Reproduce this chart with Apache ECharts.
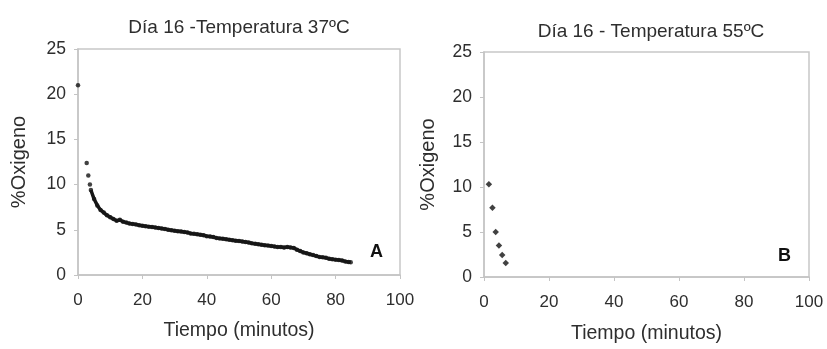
<!DOCTYPE html>
<html><head><meta charset="utf-8">
<script src="https://cdn.jsdelivr.net/npm/echarts@6/dist/echarts.min.js"></script>
<style>html,body{margin:0;padding:0;background:#fff}#c{width:827px;height:349px}</style>
</head><body><div id="c"></div>
<script>
// Panel A: Día 16 - 37ºC
const timeA = [0, 2.7, 3.2, 3.7, 4, 5, 6, 7, 8, 9, 10, 11, 12, 13, 14, 15, 16, 17, 18, 19, 20,
  21, 22, 23, 24, 25, 26, 27, 28, 29, 30, 31, 32, 33, 34, 35, 36, 37, 38, 39, 40,
  41, 42, 43, 44, 45, 46, 47, 48, 49, 50, 51, 52, 53, 54, 55, 56, 57, 58, 59, 60,
  61, 62, 63, 64, 65, 66, 67, 68, 69, 70, 71, 72, 73, 74, 75, 76, 77, 78, 79, 80,
  81, 82, 83, 84, 84.7];
const oxyA = [21.0, 12.4, 11.0, 10.0, 9.4, 8.4, 7.7, 7.2, 6.9, 6.6, 6.4, 6.2, 6.0, 6.1, 5.9, 5.8, 5.7, 5.65, 5.6, 5.5, 5.45,
  5.4, 5.35, 5.3, 5.25, 5.2, 5.15, 5.1, 5.0, 4.95, 4.9, 4.85, 4.8, 4.75, 4.7, 4.6, 4.55, 4.5, 4.45, 4.4, 4.3,
  4.25, 4.2, 4.1, 4.05, 4.0, 3.95, 3.9, 3.85, 3.8, 3.75, 3.7, 3.65, 3.6, 3.5, 3.45, 3.4, 3.35, 3.3, 3.25, 3.2,
  3.15, 3.1, 3.1, 3.05, 3.1, 3.05, 3.0, 2.8, 2.65, 2.5, 2.4, 2.3, 2.2, 2.1, 2.0, 1.95, 1.9, 1.8, 1.75, 1.7,
  1.65, 1.6, 1.5, 1.45, 1.4];
// Panel B: Día 16 - 55ºC
const timeB = [1.5, 2.6, 3.6, 4.6, 5.6, 6.7];
const oxyB = [10.3, 7.7, 5.0, 3.5, 2.45, 1.55];
const xTicks = [0, 20, 40, 60, 80, 100];
const yTicks = [0, 5, 10, 15, 20, 25];
const titles = ['Día 16 -Temperatura 37ºC', 'Día 16 - Temperatura 55ºC'];
const xName = 'Tiempo (minutos)';
const yName = '%Oxigeno';
const panelLabels = ['A', 'B'];

const FONT = '"Liberation Sans", Arial, sans-serif';
const TXT = '#2e2e2e';
const chart = echarts.init(document.getElementById('c'));
const grids = [
  {left: 78, top: 49, width: 322, height: 226},
  {left: 484, top: 52, width: 325, height: 227}
];
function xAx(i){
  return {type:'value', gridIndex:i, min:xTicks[0], max:xTicks[xTicks.length-1], interval:20,
    name:xName, nameLocation:'middle', nameGap:i?47:46,
    nameTextStyle:{fontFamily:FONT, fontSize:19.5, color:TXT},
    axisLine:{show:true, lineStyle:{color:'#c4c4c4', width:1.5}},
    axisTick:{show:true, length:4, lineStyle:{color:'#c4c4c4'}},
    axisLabel:{fontFamily:FONT, fontSize:17, color:TXT, margin:17},
    splitLine:{show:false}};
}
function yAx(i){
  return {type:'value', gridIndex:i, min:yTicks[0], max:yTicks[yTicks.length-1], interval:5,
    name:yName, nameLocation:'middle', nameGap:i?46:49, nameRotate:90,
    nameTextStyle:{fontFamily:FONT, fontSize:20, color:TXT},
    axisLine:{show:true, lineStyle:{color:'#c4c4c4', width:1.5}},
    axisTick:{show:true, length:4, lineStyle:{color:'#c4c4c4'}},
    axisLabel:{fontFamily:FONT, fontSize:17.5, color:TXT, margin:12},
    splitLine:{show:false}};
}
const denseStart = 4; // dense run of readings rendered as a continuous band
chart.setOption({
  animation:false,
  title:[
    {text:titles[0], left:234, top:13, textAlign:'center', textStyle:{fontFamily:FONT, fontSize:19, fontWeight:'normal', color:TXT}},
    {text:titles[1], left:646, top:17, textAlign:'center', textStyle:{fontFamily:FONT, fontSize:19, fontWeight:'normal', color:TXT}}
  ],
  grid: grids.map(g => Object.assign({show:true, borderColor:'#c8c8c8', borderWidth:1.5, backgroundColor:'#fff'}, g)),
  xAxis:[xAx(0), xAx(1)],
  yAxis:[yAx(0), yAx(1)],
  series:[
    {type:'line', xAxisIndex:0, yAxisIndex:0, showSymbol:false, silent:true,
      lineStyle:{color:'#161616', width:3.5}, data: timeA.slice(denseStart).map((t,k)=>[t, oxyA[k+denseStart]])},
    {type:'scatter', xAxisIndex:0, yAxisIndex:0, symbol:'circle', symbolSize:4.5,
      itemStyle:{color:'#111'}, data: timeA.map((t,k)=>[t, oxyA[k]])},
    {type:'scatter', xAxisIndex:1, yAxisIndex:1, symbol:'diamond', symbolSize:6.5,
      itemStyle:{color:'#111'}, data: timeB.map((t,k)=>[t, oxyB[k]])}
  ],
  graphic:[
    {type:'text', left:370, top:243, style:{text:panelLabels[0], font:'bold 18px '+FONT, fill:'#111'}},
    {type:'text', left:778, top:247, style:{text:panelLabels[1], font:'bold 18px '+FONT, fill:'#111'}}
  ]
});
</script></body></html>
